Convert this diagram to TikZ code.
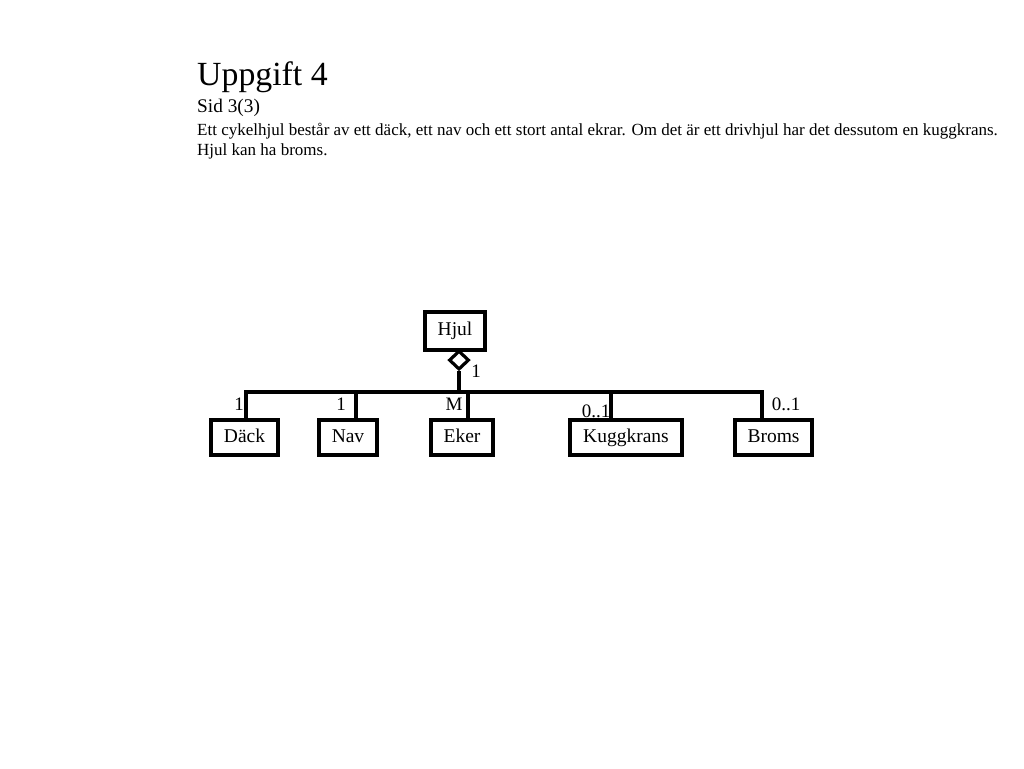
\documentclass[tikz,border=0pt]{standalone}
\usepackage{fontspec}
\setmainfont{Liberation Serif}
\usetikzlibrary{shapes.geometric}
\begin{document}
\begin{tikzpicture}[x=1pt,y=-1pt,
  cls/.style={draw,line width=3.2pt,minimum height=35pt,inner sep=0pt,text height=13pt,text depth=4pt,font=\fontsize{19.5}{19.5}\selectfont},
  conn/.style={line width=3.2pt},
  mult/.style={font=\fontsize{19}{19}\selectfont,inner sep=0pt,anchor=base},
  agg/.style={diamond,draw,line width=3.2pt,fill=white,minimum width=20pt,minimum height=19pt,inner sep=0pt}]
\useasboundingbox (0,0) rectangle (1024,768);
\node[anchor=base west,inner sep=0pt,font=\fontsize{33.8}{33.8}\selectfont] (title) at (197,85) {Uppgift 4};
\node[anchor=base west,inner sep=0pt,font=\fontsize{19.3}{19.3}\selectfont] (sid) at (197,112) {Sid 3(3)};
\node[anchor=base west,inner sep=0pt,font=\fontsize{17}{17}\selectfont] (l1) at (197,135) {Ett cykelhjul består av ett däck, ett nav och ett stort antal ekrar. Om det är ett drivhjul har det dessutom en kuggkrans.};
\node[anchor=base west,inner sep=0pt,font=\fontsize{17}{17}\selectfont] (l2) at (197,155) {Hjul kan ha broms.};

\node[cls,minimum width=60pt,minimum height=38pt] (hjul) at (455,331) {Hjul};
\node[agg,anchor=north] (dia) at (459,349) {};
\coordinate (j) at (459,392);
\node[cls,minimum width=67pt] (dack) at (244.5,437.5) {Däck};
\node[cls,minimum width=58pt] (nav) at (348,437.5) {Nav};
\node[cls,minimum width=62pt] (eker) at (462,437.5) {Eker};
\node[cls,minimum width=112pt] (kugg) at (626,437.5) {Kuggkrans};
\node[cls,minimum width=77pt] (broms) at (773.5,437.5) {Broms};

\coordinate (bl) at (246,392);
\coordinate (br) at (762,392);
\draw[conn] (dia.south) -- (j);
\draw[conn,line cap=rect] (bl) -- (br);
\draw[conn] (bl) -- (bl |- dack.north);
\draw[conn] (356,392) -- (356,0 |- nav.north);
\draw[conn] (468,392) -- (468,0 |- eker.north);
\draw[conn] (611,392) -- (611,0 |- kugg.north);
\draw[conn] (br) -- (br |- broms.north);

\node[mult] (m0) at (476,377) {1};
\node[mult] (m1) at (239,410) {1};
\node[mult] (m2) at (341,410) {1};
\node[mult] (m3) at (454,410) {M};
\node[mult] (m4) at (596,417) {0..1};
\node[mult] (m5) at (786,410) {0..1};
\end{tikzpicture}
\end{document}
